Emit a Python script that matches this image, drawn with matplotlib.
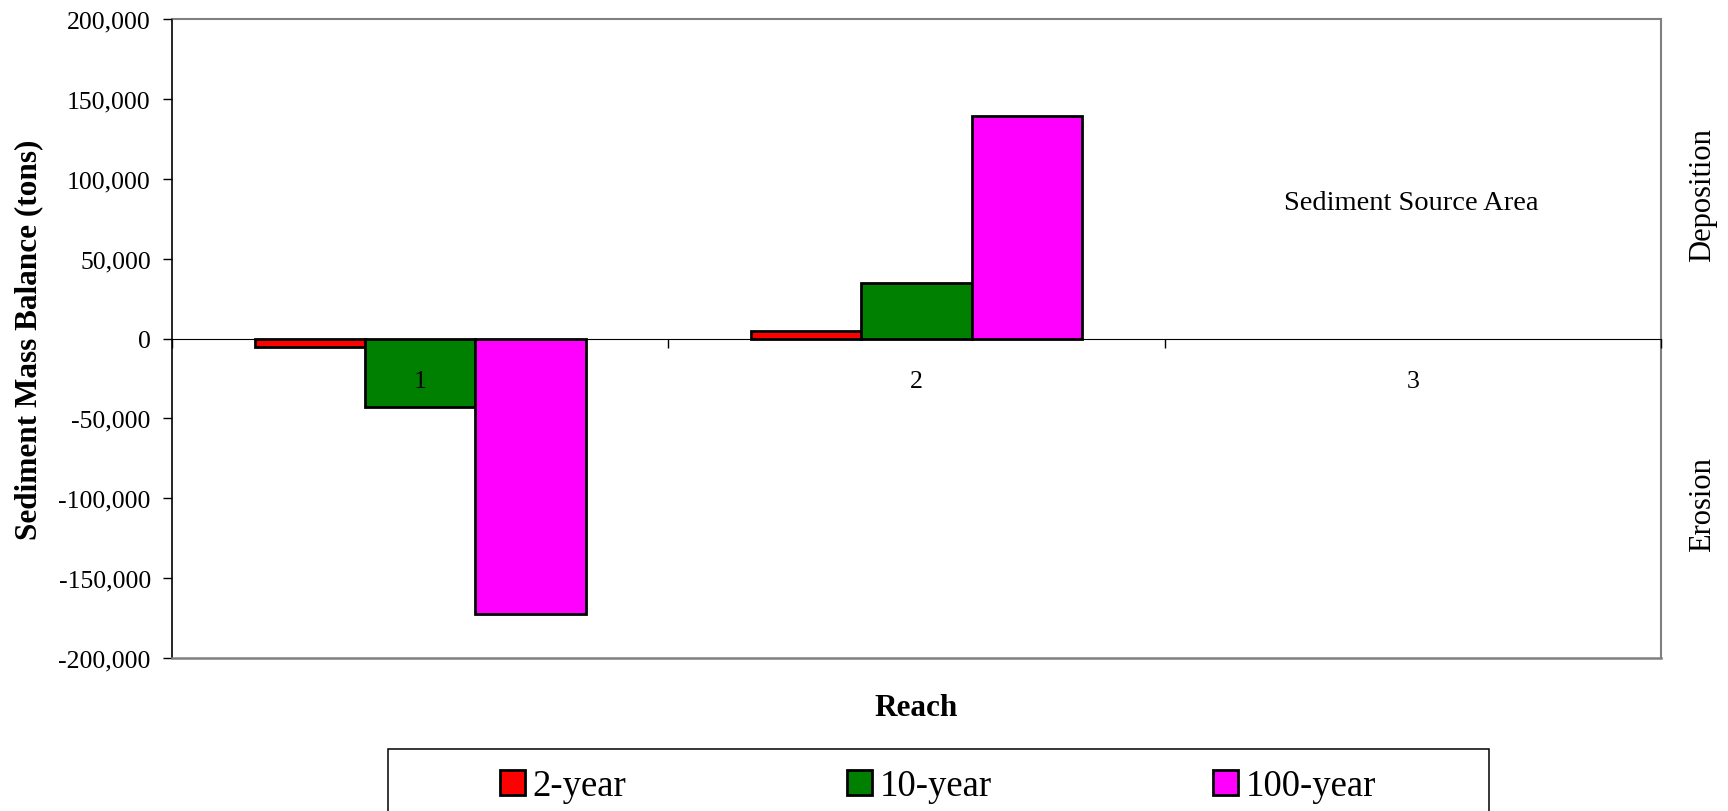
import matplotlib
matplotlib.use('Agg')
import matplotlib.pyplot as plt
from matplotlib.patches import Rectangle
from matplotlib.ticker import FuncFormatter, FixedLocator

plt.rcParams['font.family'] = ['Liberation Serif', 'DejaVu Serif']

# data (tons)
reaches = ['1', '2', '3']
series_names = ['2-year', '10-year', '100-year']
two_year = [-5500, 4500, 0]
ten_year = [-43000, 34500, 0]
hundred_year = [-172500, 139000, 0]
colors = ['#FF0000', '#008000', '#FF00FF']

fig = plt.figure(figsize=(17.28, 8.12), dpi=100)
ax = fig.add_axes([172 / 1728, 1 - 659 / 812, 1489 / 1728, 639 / 812])

x = list(range(1, len(reaches) + 1))
w = 0.6667 / 3  # Excel gap width 50%
handles = []
for k, vals in enumerate([two_year, ten_year, hundred_year]):
    xs = [xi + (k - 1) * w for xi in x]
    # reach 3 has no data -> skip empty bars
    xs_draw = [xx for xx, v in zip(xs, vals) if v != 0]
    v_draw = [v for v in vals if v != 0]
    b = ax.bar(xs_draw, v_draw, width=w, color=colors[k], edgecolor='black',
               linewidth=2, label=series_names[k], zorder=2)
    handles.append(b)

ax.set_axisbelow(False)  # category labels sit on top of the bars
ax.set_xlim(0.5, len(reaches) + 0.5)
ax.set_ylim(-200000, 200000)
ax.set_yticks(range(-200000, 200001, 50000))
ax.yaxis.set_major_formatter(FuncFormatter(lambda v, p: f'{v:,.0f}'))
ax.tick_params(axis='y', direction='out', length=6.3, width=1, labelsize=18.5, pad=9)

# category axis sits on zero, ticks at category boundaries
ax.spines['bottom'].set_position(('data', 0))
ax.spines['bottom'].set_color('black')
ax.spines['bottom'].set_linewidth(0.8)
ax.xaxis.set_major_locator(FixedLocator([i + 0.5 for i in range(len(reaches) + 1)]))
ax.xaxis.set_major_formatter(FuncFormatter(lambda v, p: ''))
ax.xaxis.set_minor_locator(FixedLocator(x))
ax.xaxis.set_minor_formatter(FuncFormatter(lambda v, p: reaches[int(round(v)) - 1]))
ax.tick_params(axis='x', which='major', direction='out', length=6.3, width=1)
ax.tick_params(axis='x', which='minor', length=0, labelsize=18.5, pad=23)

for s in ['top', 'right']:
    ax.spines[s].set_color('#808080')
    ax.spines[s].set_linewidth(1.5)
ax.spines['left'].set_color('black')
ax.spines['left'].set_linewidth(1.2)
ax.axhline(-200000, color='#808080', linewidth=1.8, clip_on=False, zorder=3)

ax.set_ylabel('Sediment Mass Balance (tons)', fontsize=22.5, fontweight='bold')
ax.yaxis.label.set_va('center')
ax.yaxis.set_label_coords((29 - 172) / 1489, 0.5)
ax.set_xlabel('Reach', fontsize=22.5, fontweight='bold')
ax.xaxis.label.set_va('center')
ax.xaxis.set_label_coords(0.5, (659 - 709) / 639)

ax.text((1411 - 172) / 1489, (659 - 204) / 639, 'Sediment Source Area',
        transform=ax.transAxes, ha='center', va='center', fontsize=20.5)
fig.text(1703 / 1728, 1 - 195 / 812, 'Deposition', rotation=90,
         ha='center', va='center', fontsize=22)
fig.text(1703 / 1728, 1 - 505 / 812, 'Erosion', rotation=90,
         ha='center', va='center', fontsize=22)

# legend box (extends past the bottom edge like the original)
fig.patches.append(Rectangle((388 / 1728, 1 - 818 / 812), 1101 / 1728, 68 / 812,
                             transform=fig.transFigure, fill=False,
                             edgecolor='black', linewidth=1.1))
fig.legend(handles=handles, loc='center', bbox_to_anchor=(938 / 1728, 1 - 787 / 812),
           ncol=3, frameon=False, fontsize=26.5, handlelength=0.67, handleheight=0.67,
           handletextpad=0.22, columnspacing=6.0, borderpad=0)

fig.savefig('out.png', dpi=100)
